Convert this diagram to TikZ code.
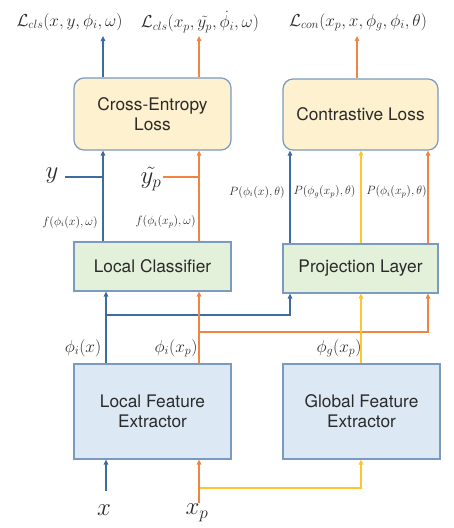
\documentclass[tikz,border=0pt]{standalone}
\usepackage{fontspec}
\usepackage{amsmath}
\setsansfont{TeX Gyre Heros}
\usetikzlibrary{arrows.meta}
\definecolor{lblue}{HTML}{3E6C9E}
\definecolor{lorange}{HTML}{F08440}
\definecolor{lyellow}{HTML}{FFC52E}
\definecolor{bord}{HTML}{7A9AC0}
\definecolor{fyel}{HTML}{FDF1CF}
\definecolor{fgrn}{HTML}{E3F0DA}
\definecolor{fblu}{HTML}{DDE8F5}
\definecolor{txt}{HTML}{2A2A2A}
\begin{document}
\begin{tikzpicture}[x=1pt,y=-1pt,
  box/.style={draw=bord,line width=1.2pt,inner sep=0pt,align=center,
    font=\sffamily\fontsize{17.3}{20}\selectfont,text=txt},
  bl/.style={draw=lblue,line width=2.2pt},
  ol/.style={draw=lorange,line width=2.2pt},
  yl/.style={draw=lyellow,line width=2.2pt},
  tip/.style={-{Triangle[length=5pt,width=4.5pt]}},
  lab/.style={inner sep=0pt,text=txt},
  toplab/.style={lab,font=\fontsize{18.5}{20}\selectfont},
  smlab/.style={lab,font=\fontsize{11.8}{14}\selectfont},
  midlab/.style={lab,font=\fontsize{17}{19}\selectfont},
  biglab/.style={lab,font=\fontsize{23}{25}\selectfont}]
\useasboundingbox (0,0) rectangle (453,528);
% boxes
\node[box,fill=fyel,rounded corners=10pt,minimum width=157pt,minimum height=72pt] (ce) at (152.5,114) {Cross-Entropy\\Loss};
\node[box,fill=fyel,rounded corners=10pt,minimum width=155pt,minimum height=71pt] (cl) at (360.5,114.5) {Contrastive Loss};
\node[box,fill=fgrn,minimum width=157pt,minimum height=49pt] (lc) at (152.5,266.5) {Local Classifier};
\node[box,fill=fgrn,minimum width=155pt,minimum height=49pt] (pl) at (360.5,268.5) {Projection Layer};
\node[box,fill=fblu,minimum width=157pt,minimum height=95pt] (lfe) at (152.5,411.5) {Local Feature\\Extractor};
\node[box,fill=fblu,minimum width=157pt,minimum height=95pt] (gfe) at (361.5,411.5) {Global Feature\\Extractor};
% labels
\node[toplab] (t1) at (69.5,22) {$\mathcal{L}_{cls}(x,y,\phi_i,\omega)$};
\node[toplab] (t2) at (200,22) {$\mathcal{L}_{cls}(x_p,\tilde{y_p},\dot{\phi_i},\omega)$};
\node[toplab] (t3) at (358,22) {$\mathcal{L}_{con}(x_p,x,\phi_g,\phi_i,\theta)$};
\node[biglab] (ylab) at (52,176) {$y$};
\node[biglab] (yplab) at (151,179) {$\tilde{y_p}$};
\node[smlab,anchor=east] (f1) at (98,222) {$f(\phi_i(x),\omega)$};
\node[smlab,anchor=east] (f2) at (196,222) {$f(\phi_i(x_p),\omega)$};
\node[smlab,anchor=east] (p1) at (285,192) {$P(\phi_i(x),\theta)$};
\node[smlab] (p2) at (324.5,192) {$P(\phi_g(x_p),\theta)$};
\node[smlab] (p3) at (396.5,192) {$P(\phi_i(x_p),\theta)$};
\node[midlab] (g1) at (83,348) {$\phi_i(x)$};
\node[midlab] (g2) at (176,348) {$\phi_i(x_p)$};
\node[midlab] (g3) at (339,348) {$\phi_g(x_p)$};
\node[biglab] (xlab) at (104,510) {$x$};
\node[biglab] (xplab) at (197,513) {$x_p$};
% coordinates
\coordinate (cB) at (103,0);
\coordinate (cO) at (199,0);
\coordinate (cBl) at (106,0);
\coordinate (pB) at (290,0);
\coordinate (pY) at (361,0);
\coordinate (pO) at (428,0);
\coordinate (tB) at (103,36);
\coordinate (tO) at (199,36);
\coordinate (tC) at (357,36);
\coordinate (yin) at (65,177);
\coordinate (ypin) at (163,177);
\coordinate (jB) at (106,315);
\coordinate (jO) at (199,332);
\coordinate (jY) at (199,488);
\coordinate (xin) at (106,491);
\coordinate (xpin) at (199,503);
% top outputs
\draw[bl,tip] (ce.north -| cB) -- (tB);
\draw[ol,tip] (ce.north -| cO) -- (tO);
\draw[ol,tip] (cl.north -| tC) -- (tC);
% classifier to CE
\draw[bl,tip] (lc.north -| cB) -- (ce.south -| cB);
\draw[ol,tip] (lc.north -| cO) -- (ce.south -| cO);
\draw[bl] (yin) -- (yin -| cB);
\draw[ol] (ypin) -- (ypin -| cO);
% projection to contrastive
\draw[bl,tip] (pl.north -| pB) -- (cl.south -| pB);
\draw[yl,tip] (pl.north -| pY) -- (cl.south -| pY);
\draw[ol,tip] (pl.north -| pO) -- (cl.south -| pO);
% features up
\draw[bl,tip] (jB) -| (pl.south -| pB);
\draw[ol,tip] (jO) -| (pl.south -| pO);
\draw[bl,tip] (lfe.north -| cBl) -- (lc.south -| cBl);
\draw[ol,tip] (lfe.north -| cO) -- (lc.south -| cO);
\draw[yl,tip] (gfe.north -| pY) -- (pl.south -| pY);
% inputs
\draw[yl,tip] (jY) -| (gfe.south -| pY);
\draw[bl,tip] (xin) -- (lfe.south -| cBl);
\draw[ol,tip] (xpin) -- (lfe.south -| cO);
\end{tikzpicture}
\end{document}
